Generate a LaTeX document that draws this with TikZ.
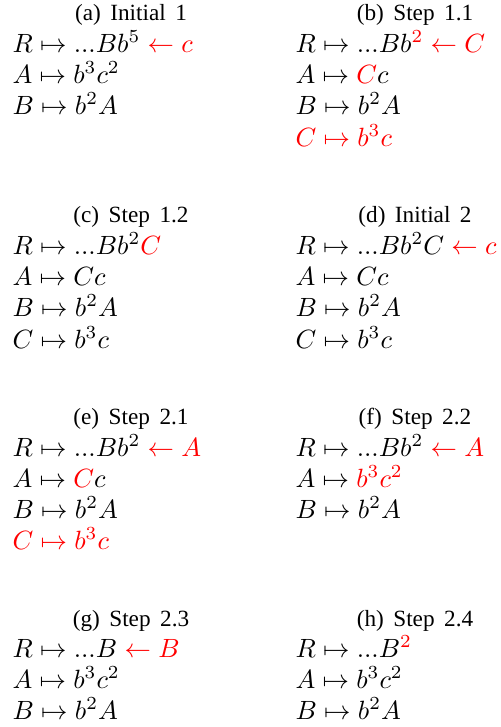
\documentclass[tikz,border=0pt]{standalone}
\usepackage[no-math]{fontspec}
\newfontfamily\capfont{Liberation Serif}
\definecolor{hl}{RGB}{255,0,0}
\newcommand{\ws}{\hspace{3.6pt}}
\begin{document}
\begin{tikzpicture}[x=0.3788pt,y=-0.3788pt,
  captxt/.style={anchor=base,inner sep=0pt,font=\capfont\fontsize{8.8}{10}\selectfont},
  eq/.style={anchor=base west,inner sep=0pt,font=\fontsize{10}{12}\selectfont}]
\useasboundingbox (0,0) rectangle (501,727);
\newcommand{\rd}[1]{{\color{hl}#1}}
% block 1
\node[captxt] (ca) at (131,20.5) {(a)\ws Initial\ws 1};
\node[eq] (a1) at (12,52) {$R\mapsto ...Bb^5\;\rd{\leftarrow c}$};
\node[eq] (a2) at (12,83) {$A\mapsto b^3c^2$};
\node[eq] (a3) at (12,114) {$B\mapsto b^2A$};
\node[captxt] (cb) at (415,20.5) {(b)\ws Step\ws 1.1};
\node[eq] (b1) at (295,52) {$R\mapsto ...Bb^{\rd{2}}\;\rd{\leftarrow C}$};
\node[eq] (b2) at (295,83) {$A\mapsto \rd{C}c$};
\node[eq] (b3) at (295,114) {$B\mapsto b^2A$};
\node[eq] (b4) at (295,146) {\color{hl}$C\mapsto b^3c$};
% block 2
\node[captxt] (cc) at (131,222.5) {(c)\ws Step\ws 1.2};
\node[eq] (c1) at (12,254) {$R\mapsto ...Bb^2\rd{C}$};
\node[eq] (c2) at (12,285) {$A\mapsto Cc$};
\node[eq] (c3) at (12,316) {$B\mapsto b^2A$};
\node[eq] (c4) at (12,348) {$C\mapsto b^3c$};
\node[captxt] (cd) at (415,222.5) {(d)\ws Initial\ws 2};
\node[eq] (d1) at (295,254) {$R\mapsto ...Bb^2C\;\rd{\leftarrow c}$};
\node[eq] (d2) at (295,285) {$A\mapsto Cc$};
\node[eq] (d3) at (295,316) {$B\mapsto b^2A$};
\node[eq] (d4) at (295,348) {$C\mapsto b^3c$};
% block 3
\node[captxt] (ce) at (131,424.5) {(e)\ws Step\ws 2.1};
\node[eq] (e1) at (12,456) {$R\mapsto ...Bb^2\;\rd{\leftarrow A}$};
\node[eq] (e2) at (12,487) {$A\mapsto \rd{C}c$};
\node[eq] (e3) at (12,518) {$B\mapsto b^2A$};
\node[eq] (e4) at (12,549) {\color{hl}$C\mapsto b^3c$};
\node[captxt] (cf) at (415,424.5) {(f)\ws Step\ws 2.2};
\node[eq] (f1) at (295,456) {$R\mapsto ...Bb^2\;\rd{\leftarrow A}$};
\node[eq] (f2) at (295,487) {$A\mapsto \rd{b^3c^2}$};
\node[eq] (f3) at (295,518) {$B\mapsto b^2A$};
% block 4
\node[captxt] (cg) at (131,626.5) {(g)\ws Step\ws 2.3};
\node[eq] (g1) at (12,657) {$R\mapsto ...B\;\rd{\leftarrow B}$};
\node[eq] (g2) at (12,688) {$A\mapsto b^3c^2$};
\node[eq] (g3) at (12,719) {$B\mapsto b^2A$};
\node[captxt] (ch) at (415,626.5) {(h)\ws Step\ws 2.4};
\node[eq] (h1) at (295,657) {$R\mapsto ...B^{\rd{2}}$};
\node[eq] (h2) at (295,688) {$A\mapsto b^3c^2$};
\node[eq] (h3) at (295,719) {$B\mapsto b^2A$};
\end{tikzpicture}
\end{document}
